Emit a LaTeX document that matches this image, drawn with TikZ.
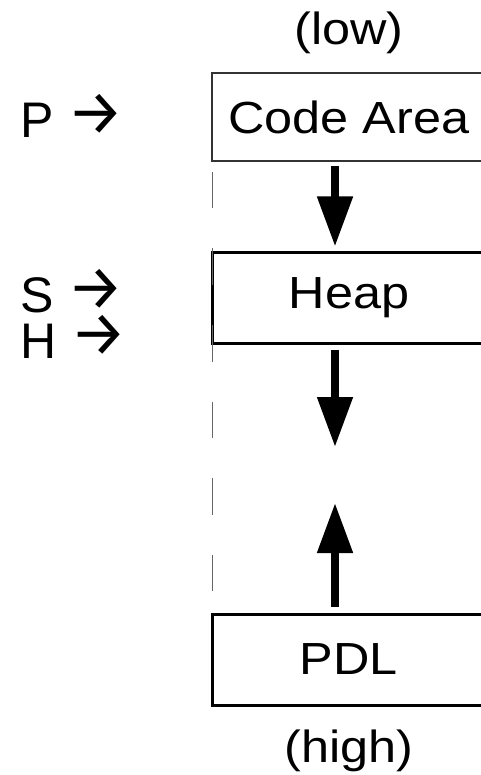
\documentclass[tikz,border=0pt]{standalone}
\usepackage{fontspec}
\setmainfont{Liberation Sans}
\newfontfamily\arrowfont{Fira Sans}
\usetikzlibrary{arrows.meta}
\newcommand{\widetxt}[1]{\scalebox{1.12}[1]{#1}}
\newcommand{\ptrarrow}{{\arrowfont\raisebox{3pt}{\scalebox{1.05}[1.05]{\fontsize{60}{60}\selectfont →}}}}
\begin{document}
\begin{tikzpicture}[x=1pt,y=-1pt,
  boxtxt/.style={font=\fontsize{45}{45}\selectfont, inner sep=0pt},
  membox/.style={draw=black, line width=3pt, minimum width=274pt, minimum height=90pt, inner sep=0pt, font=\fontsize{45}{45}\selectfont},
  thinbox/.style={membox, line width=1.3pt, draw=black!80},
  bigarrow/.style={line width=8pt, -{Triangle[length=50pt,width=34pt]}},
  ptrlabel/.style={font=\fontsize{50}{46}\selectfont, inner sep=0pt, anchor=base west, align=left}
]
\useasboundingbox (0,0) rectangle (480,775);
\node[boxtxt] (low) at (349,33) {\widetxt{(low)}};
\node[thinbox, minimum height=88pt] (code) at (349,117) {\widetxt{Code Area}};
\node[membox] (heap) at (349,298) {\widetxt{Heap}};
\node[membox, minimum height=91pt] (pdl) at (349,659.5) {\widetxt{PDL}};
\node[boxtxt] (high) at (349,751) {\widetxt{(high)}};
\node[ptrlabel] (P) at (20,138) {P \ptrarrow};
\node[ptrlabel] (SH) at (20,358) {S \ptrarrow\\H \ptrarrow};
\coordinate (dtop) at (212,172);
\coordinate (dbot) at (212,593);
\draw[black!60, line width=1pt, dash pattern=on 36.5pt off 40pt] (dtop) -- (dbot);
\coordinate (tip2) at (335,447);
\coordinate (tip3) at (335,503);
\draw[bigarrow] ([xshift=-14pt,yshift=-4pt]code.south) -- ([xshift=-14pt,yshift=5pt]heap.north);
\draw[bigarrow] ([xshift=-14pt,yshift=-5pt]heap.south) -- (tip2);
\draw[bigarrow] ([xshift=-14pt,yshift=6pt]pdl.north) -- (tip3);
\end{tikzpicture}
\end{document}
